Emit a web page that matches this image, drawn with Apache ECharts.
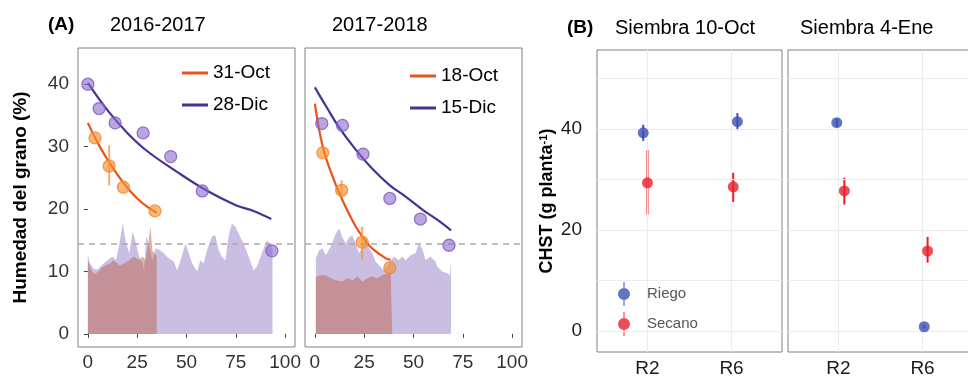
<!DOCTYPE html>
<html>
<head>
<meta charset="utf-8">
<script src="https://cdn.jsdelivr.net/npm/echarts@6/dist/echarts.min.js"></script>
<style>
  html, body { margin: 0; padding: 0; background: #fff; }
  #chart { width: 968px; height: 377px; }
</style>
</head>
<body>
<div id="chart"></div>
<script>
// ---- (A) Humedad del grano ----
const humTicks = [0, 10, 20, 30, 40];
const dayTicks = [0, 25, 50, 75, 100];
const umbral = 14.5;

// 2016-2017, siembra 31-Oct
const oct31Fit = [[0, 33.8], [5, 30.6], [10, 27.9], [15, 25.5], [20, 23.4], [25, 21.7], [30, 20.4], [35, 19.4]];
const oct31Pts = [[3.6, 31.4], [10.8, 26.9], [18, 23.5], [34, 19.7]];
const oct31Err = [[10.8, 23.8, 30.2]];
const oct31Area = [[0, 11.8], [1.7, 10.2], [3.4, 9.6], [5, 9.9], [6.7, 10.5], [9, 11], [11.5, 11.3], [13, 11.8],
  [16, 11], [18.5, 11.3], [21, 11.8], [23.4, 12.4], [26, 11.8], [27.7, 12.4], [29.3, 11.8], [31, 15.5],
  [31.7, 17.2], [32.7, 13.4], [34.9, 12.4]];

// 2016-2017, siembra 28-Dic
const dic28Fit = [[0, 40.2], [10, 35.8], [20, 32.2], [30, 29.3], [45, 26], [60, 23], [75, 20.6], [84, 19.7], [93, 18.4]];
const dic28Pts = [[0, 40], [5.7, 36.1], [13.8, 33.8], [28, 32.2], [42, 28.4], [58, 22.9], [93.3, 13.3]];
const dic28Area = [[0, 12.6], [1, 11.3], [3, 10.4], [5, 10.3], [7, 11], [10, 11.8], [12.5, 12.4], [14.3, 11.8],
  [16, 14.5], [17.7, 17.7], [19.4, 14.5], [21, 12.9], [22.7, 16.4], [24.4, 14.5], [26, 12.4], [27.7, 11.3],
  [28.5, 10], [29.6, 15.8], [31, 14], [32.7, 11.8], [34.3, 13.7], [36, 13.5], [38.5, 12.9], [41, 12.1],
  [43.6, 11.6], [45.3, 10.2], [47, 11.8], [49.5, 14.5], [51.2, 12.9], [52.8, 11.3], [55.4, 10], [57, 11.8],
  [58.7, 11.3], [60.4, 13.4], [62.9, 15.6], [64.6, 15.8], [66.3, 13.4], [67.9, 12.4], [69.7, 11.8],
  [71.3, 15.6], [73, 17.7], [74.7, 17.2], [76.4, 16.1], [78.9, 14.5], [81.5, 12.4], [84, 10.2],
  [85.7, 10.8], [88.2, 12.9], [90.7, 15], [92.4, 14.5], [93.6, 13.4]];

// 2017-2018, siembra 18-Oct
const oct18Fit = [[0, 36.9], [4, 30], [9, 25.2], [14, 21.4], [20.7, 17.2], [25, 15.2], [29, 13.7], [36, 12.1], [38.4, 11.9]];
const oct18Pts = [[4, 29], [13.6, 23], [24, 14.7], [38, 10.6]];
const oct18Err = [[13.6, 21.8, 24.6], [24, 11.8, 17.2]];
const oct18Area = [[0.5, 9.2], [3, 9.4], [5.5, 9.4], [8.1, 8.9], [10.6, 8.6], [14, 8.4], [16.5, 8.9], [19, 8.6],
  [21.5, 9.2], [24.1, 8.4], [26.6, 8.9], [29.1, 9.2], [31.7, 8.9], [34.2, 9.4], [36.7, 9.7], [38.4, 10], [39.2, 10]];

// 2017-2018, siembra 15-Dic
const dic15Fit = [[0, 39.5], [6, 36.3], [12, 33.2], [20, 29.8], [29, 26.5], [38, 23.8], [46, 22], [55, 19.8], [62, 18.3], [69, 16.6]];
const dic15Pts = [[3.5, 33.7], [14, 33.4], [24.4, 28.8], [38, 21.7], [53.5, 18.4], [68, 14.2]];
const dic15Area = [[0.5, 12.1], [2.2, 13.4], [3.9, 13.7], [5.5, 12.6], [8.1, 14], [10.6, 16.1], [12.3, 16.9],
  [14, 15.5], [15.7, 14.5], [17.3, 15.5], [19, 15.8], [20.7, 14.5], [22.4, 12.9], [24.1, 14], [25.8, 15.3],
  [27.4, 13.7], [29.1, 12.9], [30.8, 11.6], [32.5, 11], [35, 10.2], [37.5, 11.3], [40.1, 12.4], [42.6, 11.8],
  [44.3, 12.4], [46, 11.8], [48.5, 12.6], [51, 12.9], [52.7, 14.5], [54.4, 13.7], [56.1, 11.8], [58.6, 12.4],
  [61.1, 11.6], [62, 10.8], [64.6, 10], [67, 9.7], [68.4, 9.4], [69, 11.6]];

// ---- (B) CHST ----
const etapas = ['R2', 'R6'];
const chstTicks = [0, 20, 40];
const chstGrid = [0, 10, 20, 30, 40, 50];
// [posicion x, media, min, max]
const riegoOct = [[0.95, 39.2, 37.6, 40.8], [2.07, 41.4, 39.7, 43.1]];
const secanoOct = [[1.0, 29.3, 23, 35.8], [2.02, 28.5, 25.5, 31.3]];
const riegoEne = [[0.98, 41.2, 40.4, 42.0], [2.02, 0.8, 0.5, 1.1]];
const secanoEne = [[1.07, 27.7, 25, 30.3], [2.06, 15.8, 13.5, 18.6]];

const FONT = "'Liberation Sans', Arial, sans-serif";
const ORANGE = '#e8541c', PURPLE = '#4a2f94';
const ORANGE_PT = 'rgba(246,145,50,0.82)', PURPLE_PT = 'rgba(140,105,205,0.75)';
const AREA_PURPLE = 'rgba(135,108,188,0.44)', AREA_ORANGE = 'rgba(190,100,80,0.5)';
const BLUE = '#3a50b4', RED = '#e8202a';

// lo/hi = column of the lower and upper limit in each row
function errBars(xi, data, lo, hi, color, width) {
  return {
    type: 'custom', xAxisIndex: xi, yAxisIndex: xi, data: data, z: 4, silent: true,
    encode: { x: 0, y: [lo, hi] },
    renderItem: function (params, api) {
      const x = api.value(0);
      const a = api.coord([x, api.value(lo)]);
      const b = api.coord([x, api.value(hi)]);
      return { type: 'line', shape: { x1: a[0], y1: a[1], x2: b[0], y2: b[1] },
        style: { stroke: color, lineWidth: width } };
    }
  };
}
function area(xi, data, color, withLine) {
  const s = { type: 'line', xAxisIndex: xi, yAxisIndex: xi, data: data, showSymbol: false, silent: true,
    lineStyle: { width: 0 }, areaStyle: { color: color, opacity: 1 }, z: 1 };
  if (withLine) {
    s.markLine = { silent: true, symbol: ['none', 'none'], label: { show: false },
      lineStyle: { color: '#aaaaaa', type: [6, 5], width: 1.5 }, data: [{ yAxis: umbral }] };
  }
  return s;
}
function fit(xi, name, data, color) {
  return { type: 'line', name: name, xAxisIndex: xi, yAxisIndex: xi, data: data, smooth: 0.4,
    showSymbol: false, z: 3, itemStyle: { color: color }, lineStyle: { color: color, width: 2.2 } };
}
function pts(xi, data, fill, stroke) {
  return { type: 'scatter', xAxisIndex: xi, yAxisIndex: xi, data: data, symbolSize: 12, z: 5,
    itemStyle: { color: fill, borderColor: stroke, borderWidth: 1.3 } };
}
function bPts(xi, name, data, color) {
  return { type: 'scatter', name: name, xAxisIndex: xi, yAxisIndex: xi, symbolSize: 11, z: 5,
    data: data.map(d => [d[0], d[1]]), itemStyle: { color: color } };
}
function bGrid(xi) {
  return { type: 'line', xAxisIndex: xi, yAxisIndex: xi, data: [], silent: true,
    markLine: { silent: true, symbol: ['none', 'none'], label: { show: false },
      lineStyle: { color: '#ececec', type: 'solid', width: 1 },
      data: chstGrid.map(v => ({ yAxis: v })).concat([1, 2].map(v => ({ xAxis: v }))) } };
}

const aX = (gi) => ({ type: 'value', gridIndex: gi, min: -5, max: 105,
  axisLine: { show: false }, splitLine: { show: false },
  axisTick: { show: true, length: 4, customValues: dayTicks, lineStyle: { color: '#444' } },
  axisLabel: { customValues: dayTicks, fontSize: 19, color: '#333', margin: 6, fontFamily: FONT } });
const aY = (gi, labels) => ({ type: 'value', gridIndex: gi, min: -2.1, max: 45.8,
  axisLine: { show: false }, splitLine: { show: false },
  axisTick: { show: labels, length: 4, customValues: humTicks, lineStyle: { color: '#444' } },
  axisLabel: { show: labels, customValues: humTicks, fontSize: 19, color: '#333', margin: 9, fontFamily: FONT },
  name: labels ? 'Humedad del grano (%)' : '', nameLocation: 'middle', nameGap: 48, nameMoveOverlap: false,
  nameTextStyle: { fontWeight: 'bold', fontSize: 19, color: '#000', fontFamily: FONT } });
const bX = (gi) => ({ type: 'value', gridIndex: gi, min: 0.4, max: 2.6,
  axisLine: { show: false }, splitLine: { show: false }, axisTick: { show: false },
  axisLabel: { customValues: [1, 2], formatter: v => etapas[Math.round(v) - 1], fontSize: 19,
    color: '#1a1a1a', margin: 7, fontFamily: FONT } });
const bY = (gi, labels) => ({ type: 'value', gridIndex: gi, min: -4.2, max: 55.6,
  axisLine: { show: false }, splitLine: { show: false }, axisTick: { show: false },
  axisLabel: { show: labels, customValues: chstTicks, fontSize: 19, color: '#1a1a1a', margin: 15, fontFamily: FONT },
  name: labels ? 'CHST (g planta{sup|-1})' : '', nameLocation: 'middle', nameGap: 40, nameMoveOverlap: false,
  nameTextStyle: { fontWeight: 'bold', fontSize: 18, color: '#000', fontFamily: FONT,
    rich: { sup: { fontSize: 11, fontWeight: 'bold', verticalAlign: 'top', padding: [0, 0, 8, 0] } } } });

const gridBase = { show: true, borderColor: '#808080', borderWidth: 1, backgroundColor: 'transparent',
  containLabel: false, outerBoundsMode: 'none' };

const chart = echarts.init(document.getElementById('chart'), null, { renderer: 'canvas' });
chart.setOption({
  animation: false,
  backgroundColor: '#fff',
  textStyle: { fontFamily: FONT },
  grid: [
    Object.assign({ left: 78, top: 48, width: 217, height: 299 }, gridBase),
    Object.assign({ left: 305, top: 48, width: 217, height: 299 }, gridBase),
    Object.assign({ left: 597, top: 50, width: 185, height: 302 }, gridBase),
    Object.assign({ left: 788, top: 50, width: 185, height: 302 }, gridBase)
  ],
  xAxis: [aX(0), aX(1), bX(2), bX(3)],
  yAxis: [aY(0, true), aY(1, false), bY(2, true), bY(3, false)],
  legend: [
    { data: ['31-Oct', '28-Dic'], left: 177, top: 58, orient: 'vertical', icon: 'rect', itemWidth: 26, itemHeight: 3,
      itemGap: 12, textStyle: { fontSize: 19, color: '#000', lineHeight: 20, fontFamily: FONT }, selectedMode: false },
    { data: ['18-Oct', '15-Dic'], left: 405, top: 61, orient: 'vertical', icon: 'rect', itemWidth: 26, itemHeight: 3,
      itemGap: 12, textStyle: { fontSize: 19, color: '#000', lineHeight: 20, fontFamily: FONT }, selectedMode: false },
    { data: ['Riego', 'Secano'], left: 613, top: 277, orient: 'vertical',
      icon: 'path://M5.4,0H6.6V6H5.4Z M5.4,18H6.6V24H5.4Z M0,12A6,6,0,1,1,12,12A6,6,0,1,1,0,12Z',
      itemWidth: 12, itemHeight: 24, itemGap: 6,
      textStyle: { fontSize: 15, color: '#555', padding: [0, 0, 0, 12], fontFamily: FONT }, selectedMode: false }
  ],
  graphic: [
    { type: 'text', x: 48, y: 25, style: { text: '(A)', font: 'bold 19px ' + FONT, fill: '#000', verticalAlign: 'middle' } },
    { type: 'text', x: 110, y: 25, style: { text: '2016-2017', font: '20px ' + FONT, fill: '#000', verticalAlign: 'middle' } },
    { type: 'text', x: 332, y: 25, style: { text: '2017-2018', font: '20px ' + FONT, fill: '#000', verticalAlign: 'middle' } },
    { type: 'text', x: 567, y: 28, style: { text: '(B)', font: 'bold 19px ' + FONT, fill: '#000', verticalAlign: 'middle' } },
    { type: 'text', x: 615, y: 28, style: { text: 'Siembra 10-Oct', font: '20px ' + FONT, fill: '#000', verticalAlign: 'middle' } },
    { type: 'text', x: 800, y: 28, style: { text: 'Siembra 4-Ene', font: '20px ' + FONT, fill: '#000', verticalAlign: 'middle' } }
  ],
  series: [
    // panel A 2016-2017
    area(0, dic28Area, AREA_PURPLE, true),
    area(0, oct31Area, AREA_ORANGE, false),
    fit(0, '31-Oct', oct31Fit, ORANGE),
    fit(0, '28-Dic', dic28Fit, PURPLE),
    errBars(0, oct31Err, 1, 2, 'rgba(246,150,60,0.8)', 2),
    pts(0, oct31Pts, ORANGE_PT, '#f08a30'),
    pts(0, dic28Pts, PURPLE_PT, '#7c5cbf'),
    // panel A 2017-2018
    area(1, dic15Area, AREA_PURPLE, true),
    area(1, oct18Area, AREA_ORANGE, false),
    fit(1, '18-Oct', oct18Fit, ORANGE),
    fit(1, '15-Dic', dic15Fit, PURPLE),
    errBars(1, oct18Err, 1, 2, 'rgba(246,150,60,0.8)', 2),
    pts(1, oct18Pts, ORANGE_PT, '#f08a30'),
    pts(1, dic15Pts, PURPLE_PT, '#7c5cbf'),
    // panel B
    bGrid(2), bGrid(3),
    errBars(2, riegoOct, 2, 3, BLUE, 2), errBars(2, secanoOct, 2, 3, RED, 2),
    errBars(3, riegoEne, 2, 3, BLUE, 2), errBars(3, secanoEne, 2, 3, RED, 2),
    bPts(2, 'Riego', riegoOct, BLUE), bPts(2, 'Secano', secanoOct, RED),
    bPts(3, 'Riego', riegoEne, BLUE), bPts(3, 'Secano', secanoEne, RED)
  ]
});
</script>
</body>
</html>
